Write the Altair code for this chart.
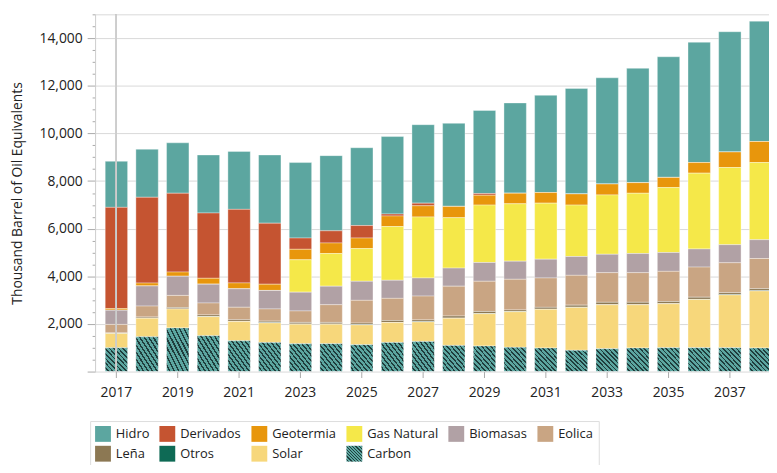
import altair as alt
import pandas as pd

years = [str(y) for y in range(2017, 2039)]

carbon = [1000, 1460, 1835, 1503, 1296, 1225, 1171, 1171, 1130, 1225, 1267, 1100, 1074, 1017, 992, 893, 963, 992, 1005, 1005, 1005, 992]
solar = [600, 778, 790, 802, 802, 818, 818, 818, 830, 831, 818, 1138, 1355, 1496, 1620, 1802, 1840, 1811, 1840, 2022, 2213, 2393]
otros = [5, 5, 5, 5, 5, 5, 5, 5, 5, 5, 5, 5, 5, 5, 5, 5, 5, 5, 5, 5, 5, 5]
lena = [20, 50, 60, 70, 70, 70, 70, 70, 70, 80, 80, 90, 90, 70, 80, 90, 100, 100, 90, 90, 90, 90]
eolica = [355, 457, 508, 499, 527, 512, 482, 744, 956, 933, 999, 1252, 1268, 1287, 1233, 1252, 1245, 1245, 1268, 1264, 1256, 1268]
biomasas = [595, 843, 802, 789, 773, 776, 790, 777, 801, 760, 761, 760, 789, 761, 789, 789, 773, 802, 789, 764, 760, 789]
gas_natural = [0, 0, 0, 0, 0, 0, 1358, 1370, 1371, 2255, 2562, 2118, 2409, 2409, 2354, 2159, 2492, 2533, 2727, 3182, 3239, 3239]
geotermia = [70, 124, 179, 249, 249, 262, 440, 444, 444, 444, 469, 473, 415, 443, 444, 470, 457, 444, 429, 444, 652, 884]
derivados = [4250, 3601, 3309, 2741, 3089, 2562, 473, 511, 524, 83, 112, 0, 71, 0, 0, 0, 0, 0, 0, 0, 0, 0]
hidro = [1935, 2018, 2118, 2437, 2434, 2865, 3169, 3157, 3268, 3252, 3293, 3488, 3488, 3792, 4083, 4430, 4460, 4801, 5066, 5053, 5050, 5054]

# legend order (top of stack first)
series_names = ["Hidro", "Derivados", "Geotermia", "Gas Natural", "Biomasas",
                "Eolica", "Leña", "Otros", "Solar", "Carbon"]
series_values = [hidro, derivados, geotermia, gas_natural, biomasas,
                 eolica, lena, otros, solar, carbon]
series_colors = ["#5ca6a0", "#c55431", "#e8960c", "#f5e849", "#b1a1a5",
                 "#c9a583", "#8c7853", "#0e6a55", "#f7d77b"]

rows = []
n_series = len(series_names)
for si, (name, vals) in enumerate(zip(series_names, series_values)):
    for y, v in zip(years, vals):
        rows.append({"year": y, "series": name, "value": v,
                     "stack": n_series - 1 - si})
df = pd.DataFrame(rows)

# hatch for Carbon as a striped linear gradient
N = 10
stops = []
for i in range(N):
    a = i / N
    b = (i + 0.62) / N
    c = (i + 1) / N
    stops.append("{'offset':%.4f,'color':'#5ca6a0'}" % a)
    stops.append("{'offset':%.4f,'color':'#5ca6a0'}" % b)
    stops.append("{'offset':%.4f,'color':'#1f3e3d'}" % b)
    stops.append("{'offset':%.4f,'color':'#1f3e3d'}" % c)
hatch_expr = ("{'gradient':'linear','x1':0,'y1':1,'x2':1,'y2':0,'stops':["
              + ",".join(stops) + "]}")

color_range = series_colors + [alt.ExprRef(expr=hatch_expr)]

font = "Open Sans"
y_ticks = list(range(0, 15001, 500))
x_labels = [str(y) for y in range(2017, 2038, 2)]

x_enc = alt.X("year:N", sort=years,
              scale=alt.Scale(paddingInner=0.27, paddingOuter=0.33, range=[0, 694]),
              axis=alt.Axis(title=None, values=x_labels, labelAngle=0,
                            labelFont=font, labelFontSize=14, labelColor="#222222",
                            tickColor="#aaaaaa", tickSize=6, domain=False,
                            labelPadding=8, grid=False))

bars = alt.Chart(df).mark_bar(
    stroke="#ffffff", strokeWidth=0.6, strokeOpacity=0.6, clip=True
).encode(
    x=x_enc,
    y=alt.Y("value:Q", stack="zero",
            scale=alt.Scale(domain=[0, 15000], nice=False),
            axis=alt.Axis(title="Thousand Barrel of Oil Equivalents",
                          titleFont=font, titleFontSize=14, titleFontWeight="normal",
                          titleColor="#222222", titlePadding=15,
                          values=y_ticks,
                          labelExpr="datum.value % 2000 == 0 && datum.value > 0 ? datum.label : ''",
                          labelFont=font, labelFontSize=14, labelColor="#222222",
                          labelPadding=5,
                          tickColor="#aaaaaa",
                          tickSize={"condition": {"test": "datum.value % 2000 == 0", "value": 8}, "value": 3},
                          gridColor={"condition": {"test": "datum.value % 2000 == 0 || datum.value == 15000", "value": "#d9d9d9"}, "value": "transparent"},
                          domainColor="#cccccc")),
    color=alt.Color("series:N",
                    scale=alt.Scale(domain=series_names, range=color_range),
                    legend=alt.Legend(title=None, orient="none", legendX=-5, legendY=411,
                                      direction="horizontal", columns=6,
                                      symbolType="square", symbolSize=256,
                                      symbolStrokeWidth=0,
                                      labelFont=font, labelFontSize=13, labelColor="#222222",
                                      labelOffset=5, columnPadding=10, rowPadding=4,
                                      padding=5, strokeColor="#dddddd")),
    order=alt.Order("stack:Q", sort="ascending"),
)

crosshair = alt.Chart(df).mark_rule(color="#cccccc", strokeWidth=1, opacity=0.8).encode(
    x=alt.datum("2017")
)

chart = alt.layer(bars, crosshair).properties(
    width=681, height=361,
    autosize=alt.AutoSizeParams(type="none"),
    padding={"left": 88, "top": 4, "right": 0, "bottom": 92}
).configure_view(stroke=None)

chart.save("out.html", embed_options={"renderer": "svg", "actions": False})
